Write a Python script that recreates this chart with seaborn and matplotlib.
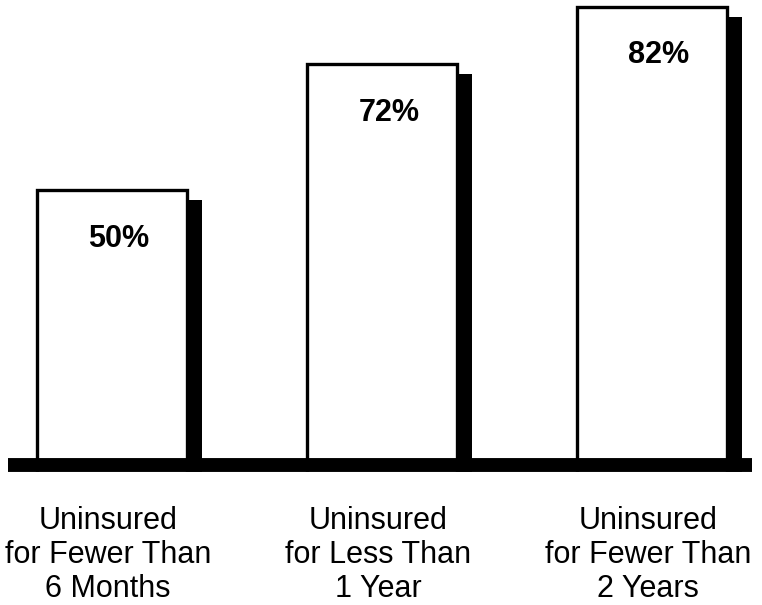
import seaborn as sns
import matplotlib.pyplot as plt
import matplotlib.patheffects as pe
import pandas as pd

categories = ["Uninsured\nfor Fewer Than\n6 Months",
              "Uninsured\nfor Less Than\n1 Year",
              "Uninsured\nfor Fewer Than\n2 Years"]
values = [50, 72, 82]
value_labels = ["50%", "72%", "82%"]

sns.set_style("white")
plt.rcParams['font.family'] = ['Liberation Sans', 'DejaVu Sans']
plt.rcParams['text.color'] = 'black'

df = pd.DataFrame({"group": categories, "pct": values})

fig = plt.figure(figsize=(7.62, 6.05), dpi=100)
ax = fig.add_axes([0, 0, 1, 1])

# white bars with black outline
sns.barplot(data=df, x="group", y="pct", color="white", edgecolor="black",
            linewidth=2.4, width=0.556, saturation=1, ax=ax)

# solid black drop shadow to the lower right
for bar in ax.patches:
    bar.set_path_effects([
        pe.SimplePatchShadow(offset=(11, -7.5), shadow_rgbFace="black", alpha=1.0),
        pe.Normal(),
    ])

# scale: ~5.72 px per percent, zero sits just under the thick baseline
ax.set_xlim(-0.415, 2.407)
ax.set_ylim(-22.55, 83.2)

# hide the bar feet below the baseline
ax.axhspan(-22.55, 0.70, color="white", zorder=4)
# thick baseline
ax.axhline(1.92, xmin=0.0105, xmax=0.987, color="black", linewidth=10,
           solid_capstyle="butt", zorder=5)

# value labels inside bars
for i, (v, lab) in enumerate(zip(values, value_labels)):
    ax.annotate(lab, xy=(i, v), xytext=(5, -35), textcoords="offset points",
                ha="center", va="center", fontsize=22, fontweight="bold",
                color="black", zorder=6)

# category labels under the baseline
for i, cat in enumerate(categories):
    ax.text(i - 0.015, -13.8, cat, ha="center", va="center", fontsize=22,
            linespacing=1.18, color="black", zorder=6)

ax.set_axis_off()

plt.savefig("out.png", dpi=100)
